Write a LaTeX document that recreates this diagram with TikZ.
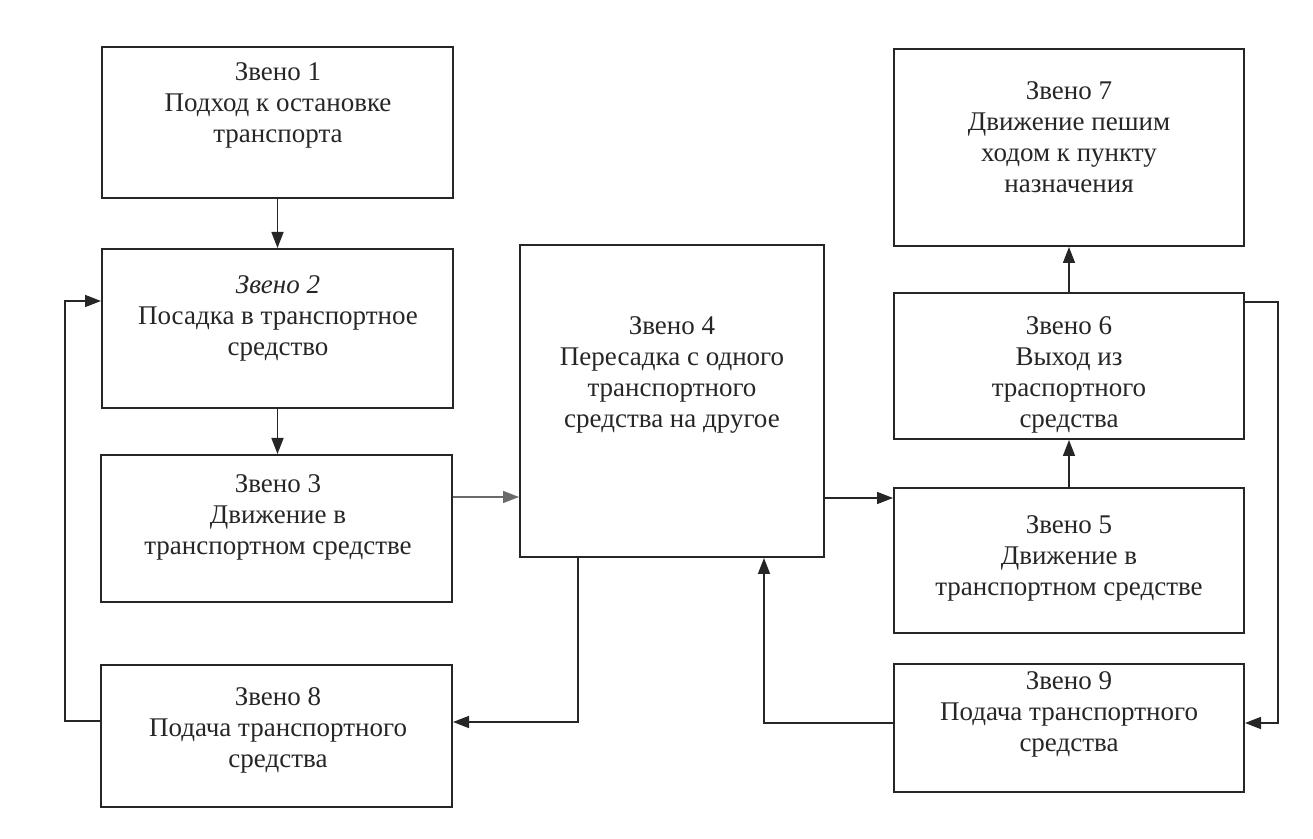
\documentclass[tikz,border=0pt]{standalone}
\usepackage{fontspec}
\setmainfont{Liberation Serif}
\usetikzlibrary{arrows.meta}
\definecolor{ink}{HTML}{262626}
\definecolor{lightink}{HTML}{6A6A6A}
\tikzset{
  box/.style={draw=ink, line width=1pt, inner sep=0pt},
  lbl/.style={align=center, text=ink, font=\fontsize{13.5pt}{15.5pt}\selectfont, inner sep=0pt},
  arr/.style={draw=ink, line width=0.8pt, -{Triangle[length=8pt,width=6pt]}},
}
\newcommand{\mkbox}[5]{% name, x1, y1, x2, y2
  \node[box, minimum width={(#4-#2)*0.5pt}, minimum height={(#5-#3)*0.5pt}] (#1) at ({(#2+#4)/2},{(#3+#5)/2}) {};}
\begin{document}
\begin{tikzpicture}[x=0.5pt,y=-0.5pt]
\useasboundingbox (0,0) rectangle (1313,839);
% boxes
\mkbox{b1}{102}{47}{453}{198}
\mkbox{b2}{102}{249}{453}{408}
\mkbox{b3}{101}{455}{452}{602}
\mkbox{b8}{101}{665}{452}{807}
\mkbox{b4}{520}{245}{824}{557}
\mkbox{b7}{894}{49}{1244}{246}
\mkbox{b6}{894}{293}{1244}{439}
\mkbox{b5}{894}{488}{1244}{633}
\mkbox{b9}{894}{664}{1244}{792}
% texts
\node[lbl] (t1) at (278,105) {Звено 1\\Подход к остановке\\транспорта};
\node[lbl] (t2) at (278,318) {\textit{Звено 2}\\Посадка в транспортное\\средство};
\node[lbl] (t3) at (278,517) {Звено 3\\Движение в\\транспортном средстве};
\node[lbl] (t8) at (278,730) {Звено 8\\Подача транспортного\\средства};
\node[lbl] (t4) at (672,375) {Звено 4\\Пересадка с одного\\транспортного\\средства на другое};
\node[lbl] (t7) at (1069,137) {Звено 7\\Движение пешим\\ходом к пункту\\назначения};
\node[lbl] (t6) at (1069,375) {Звено 6\\Выход из\\траспортного\\средства};
\node[lbl] (t5) at (1069,558) {Звено 5\\Движение в\\транспортном средстве};
\node[lbl] (t9) at (1069,714) {Звено 9\\Подача транспортного\\средства};
% connectors
\draw[arr] (b1.south) -- (b1.south |- b2.north);
\draw[arr] (b2.south) -- (b2.south |- b3.north);
\draw[arr, draw=lightink] (b3.east |- 0,497) -- (b4.west |- 0,497);
\draw[arr] (b4.east |- 0,498) -- (b5.west |- 0,498);
\draw[arr] (b5.north) -- (b5.north |- b6.south);
\draw[arr] (b6.north) -- (b6.north |- b7.south);
\draw[arr] (b4.south -| 578,0) |- (b8.east |- 0,722);
\draw[arr] (b8.west |- 0,721) -| (65,301) -- (b2.west |- 0,301);
\draw[arr] (b6.east |- 0,302) -| (1278,723) -- (b9.east |- 0,723);
\draw[arr] (b9.west |- 0,723) -| (b4.south -| 764,0);
\end{tikzpicture}
\end{document}
